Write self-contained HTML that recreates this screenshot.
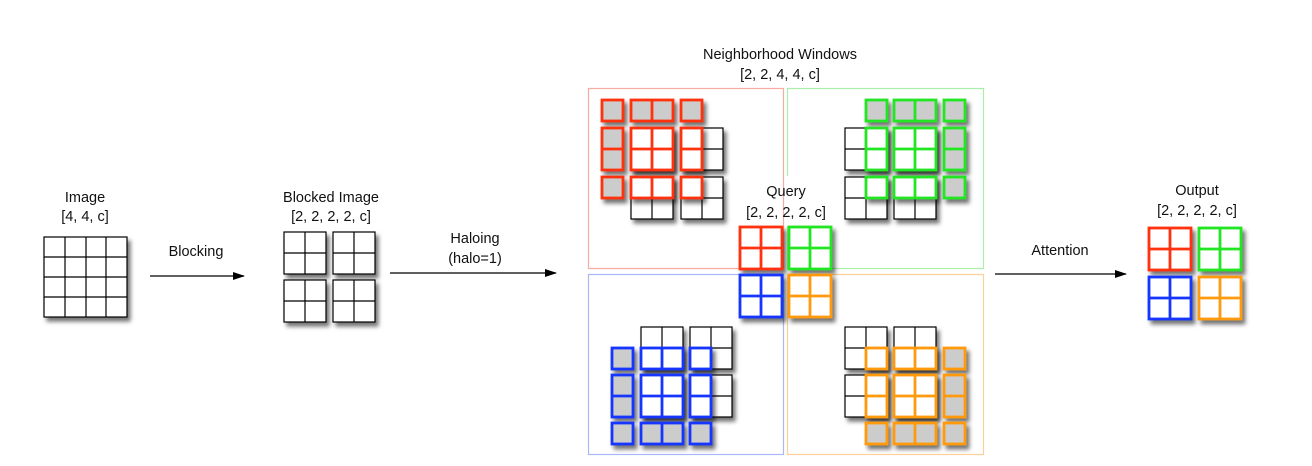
<!DOCTYPE html>
<html><head><meta charset="utf-8"><style>
html,body{margin:0;padding:0;background:#fff;}
svg{display:block;}
text{font-family:"Liberation Sans",sans-serif;font-size:14.5px;fill:#111;text-anchor:middle;}
</style></head><body>
<svg width="1312" height="466" viewBox="0 0 1312 466" xmlns="http://www.w3.org/2000/svg">
<defs>
<filter id="sh" x="-30%" y="-30%" width="170%" height="170%">
<feDropShadow dx="3" dy="4" stdDeviation="2" flood-color="#000" flood-opacity="0.55"/>
</filter>
<marker id="ar" markerWidth="12" markerHeight="8" refX="11" refY="4" orient="auto" markerUnits="userSpaceOnUse">
<path d="M0,0 L12,4 L0,8 Z" fill="#000"/>
</marker>
<symbol id="s1" overflow="visible"><rect x="0" y="0" width="21" height="21" stroke="currentColor"/></symbol>
<symbol id="s2h" overflow="visible"><rect x="0" y="0" width="42" height="21" stroke="currentColor"/><line x1="21" y1="0" x2="21" y2="21" stroke="currentColor"/></symbol>
<symbol id="s2v" overflow="visible"><rect x="0" y="0" width="21" height="42" stroke="currentColor"/><line x1="0" y1="21" x2="21" y2="21" stroke="currentColor"/></symbol>
<symbol id="s4" overflow="visible"><rect x="0" y="0" width="42" height="42" stroke="currentColor"/><line x1="21" y1="0" x2="21" y2="42" stroke="currentColor"/><line x1="0" y1="21" x2="42" y2="21" stroke="currentColor"/></symbol>
</defs>

<!-- Image -->
<text x="85" y="202">Image</text>
<text x="85" y="221">[4, 4, c]</text>
<g filter="url(#sh)">
<rect x="44" y="237" width="83" height="80" fill="#fff" stroke="#000" stroke-width="1.2"/>
<path d="M65 237V317M86 237V317M106 237V317M44 257H127M44 277H127M44 297H127" stroke="#000" stroke-width="1.2"/>
</g>
<line x1="150" y1="276" x2="244" y2="276" stroke="#000" stroke-width="1.3" marker-end="url(#ar)"/>
<text x="196" y="256">Blocking</text>

<!-- Blocked -->
<text x="331" y="202">Blocked Image</text>
<text x="331" y="221">[2, 2, 2, 2, c]</text>
<g filter="url(#sh)" color="#000" fill="#fff" stroke-width="1.2">
<use href="#s4" x="284" y="232"/><use href="#s4" x="333" y="232"/>
<use href="#s4" x="284" y="280"/><use href="#s4" x="333" y="280"/>
</g>
<line x1="390" y1="273" x2="556" y2="273" stroke="#000" stroke-width="1.3" marker-end="url(#ar)"/>
<text x="475" y="243">Haloing</text>
<text x="475" y="263">(halo=1)</text>

<!-- Windows -->
<text x="780" y="59">Neighborhood Windows</text>
<text x="780" y="79">[2, 2, 4, 4, c]</text>
<rect x="787.5" y="88.5" width="196" height="180" fill="none" stroke="#a8f0a8" stroke-width="1.2"/>
<rect x="588.5" y="274.5" width="195" height="180" fill="none" stroke="#a8b8f8" stroke-width="1.2"/>
<rect x="787.5" y="274.5" width="196" height="180" fill="none" stroke="#fcd098" stroke-width="1.2"/>
<rect x="786" y="176" width="54" height="50" fill="#fff"/>
<rect x="588.5" y="88.5" width="195" height="180" fill="none" stroke="#f6aaa0" stroke-width="1.2"/>

<!-- black bases -->
<g filter="url(#sh)" color="#000" fill="#fff" stroke-width="1.2">
<use href="#s4" x="631" y="128"/><use href="#s4" x="681" y="128"/><use href="#s4" x="631" y="177"/><use href="#s4" x="681" y="177"/>
<use href="#s4" x="845" y="128"/><use href="#s4" x="894" y="128"/><use href="#s4" x="845" y="177"/><use href="#s4" x="894" y="177"/>
<use href="#s4" x="641" y="327"/><use href="#s4" x="690" y="327"/><use href="#s4" x="641" y="375"/><use href="#s4" x="690" y="375"/>
<use href="#s4" x="845" y="327"/><use href="#s4" x="894" y="327"/><use href="#s4" x="845" y="375"/><use href="#s4" x="894" y="375"/>
</g>

<!-- TL red -->
<g filter="url(#sh)" color="#ff3010" stroke-width="2.8">
<use href="#s1" x="602" y="100" fill="#ccc"/><use href="#s2h" x="631" y="100" fill="#ccc"/><use href="#s1" x="681" y="100" fill="#ccc"/>
<use href="#s2v" x="602" y="128" fill="#ccc"/><use href="#s4" x="631" y="128" fill="#fff"/><use href="#s2v" x="681" y="128" fill="#fff"/>
<use href="#s1" x="602" y="177" fill="#ccc"/><use href="#s2h" x="631" y="177" fill="#fff"/><use href="#s1" x="681" y="177" fill="#fff"/>
</g>
<!-- TR green -->
<g filter="url(#sh)" color="#22e622" stroke-width="2.8">
<use href="#s1" x="866" y="100" fill="#ccc"/><use href="#s2h" x="894" y="100" fill="#ccc"/><use href="#s1" x="944" y="100" fill="#ccc"/>
<use href="#s2v" x="866" y="128" fill="#fff"/><use href="#s4" x="894" y="128" fill="#fff"/><use href="#s2v" x="944" y="128" fill="#ccc"/>
<use href="#s1" x="866" y="177" fill="#fff"/><use href="#s2h" x="894" y="177" fill="#fff"/><use href="#s1" x="944" y="177" fill="#ccc"/>
</g>
<!-- BL blue -->
<g filter="url(#sh)" color="#1535ff" stroke-width="2.8">
<use href="#s1" x="612" y="348" fill="#ccc"/><use href="#s2h" x="641" y="348" fill="#fff"/><use href="#s1" x="690" y="348" fill="#fff"/>
<use href="#s2v" x="612" y="375" fill="#ccc"/><use href="#s4" x="641" y="375" fill="#fff"/><use href="#s2v" x="690" y="375" fill="#fff"/>
<use href="#s1" x="612" y="423" fill="#ccc"/><use href="#s2h" x="641" y="423" fill="#ccc"/><use href="#s1" x="690" y="423" fill="#ccc"/>
</g>
<!-- BR orange -->
<g filter="url(#sh)" color="#ff9a10" stroke-width="2.8">
<use href="#s1" x="866" y="348" fill="#fff"/><use href="#s2h" x="894" y="348" fill="#fff"/><use href="#s1" x="944" y="348" fill="#ccc"/>
<use href="#s2v" x="866" y="375" fill="#fff"/><use href="#s4" x="894" y="375" fill="#fff"/><use href="#s2v" x="944" y="375" fill="#ccc"/>
<use href="#s1" x="866" y="423" fill="#ccc"/><use href="#s2h" x="894" y="423" fill="#ccc"/><use href="#s1" x="944" y="423" fill="#ccc"/>
</g>

<!-- Query -->
<text x="786" y="196">Query</text>
<text x="786" y="217">[2, 2, 2, 2, c]</text>
<g filter="url(#sh)" fill="#fff" stroke-width="2.8">
<use href="#s4" x="740" y="227" color="#ff3010"/><use href="#s4" x="789" y="227" color="#22e622"/>
<use href="#s4" x="740" y="275" color="#1535ff"/><use href="#s4" x="789" y="275" color="#ff9a10"/>
</g>

<!-- Attention -->
<line x1="995" y1="274" x2="1126" y2="274" stroke="#000" stroke-width="1.3" marker-end="url(#ar)"/>
<text x="1060" y="255">Attention</text>

<!-- Output -->
<text x="1197" y="195">Output</text>
<text x="1197" y="215">[2, 2, 2, 2, c]</text>
<g filter="url(#sh)" fill="#fff" stroke-width="2.8">
<use href="#s4" x="1149" y="228" color="#ff3010"/><use href="#s4" x="1199" y="228" color="#22e622"/>
<use href="#s4" x="1149" y="277" color="#1535ff"/><use href="#s4" x="1199" y="277" color="#ff9a10"/>
</g>
</svg>
</body></html>
